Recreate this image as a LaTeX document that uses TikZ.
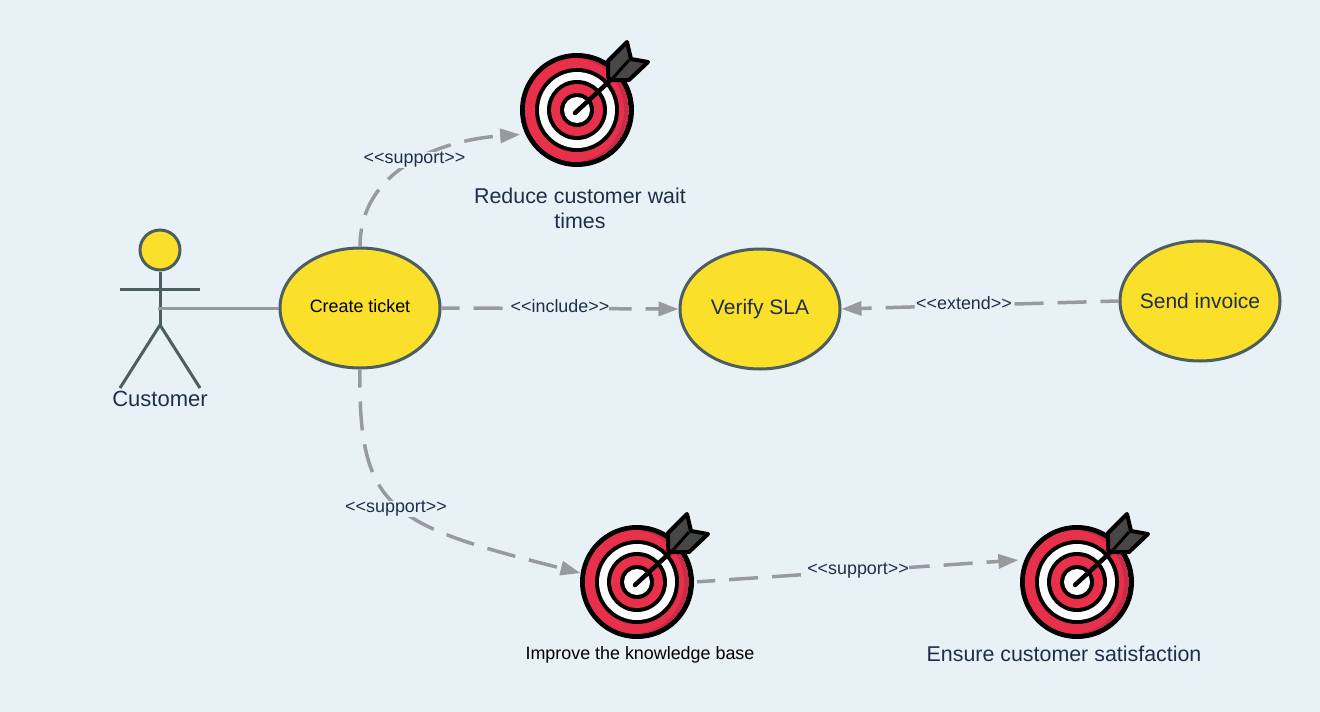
\documentclass[tikz,border=0pt]{standalone}
\usepackage{fontspec}
\setmainfont{Liberation Sans}
\usepackage{xcolor}
\usetikzlibrary{positioning,calc,arrows.meta,shapes.geometric}
\definecolor{bgblue}{HTML}{E8F1F6}
\definecolor{caseyellow}{HTML}{FBE02B}
\definecolor{caseline}{HTML}{4D5E60}
\definecolor{linkgray}{HTML}{989B9D}
\definecolor{textnavy}{HTML}{202E4A}
\definecolor{ringred}{HTML}{E9304A}
\definecolor{ringdark}{HTML}{C42C48}
\tikzset{
	usecase/.style={ellipse,draw=caseline,line width=3pt,fill=caseyellow,minimum width=160pt,minimum height=120pt,inner sep=0pt,text=textnavy,font=\fontsize{21}{25}\selectfont},
	actorline/.style={draw=caseline,line width=3pt},
	link/.style={draw=linkgray,line width=3.5pt,dash pattern=on 29pt off 14pt,dash phase=11pt,-{Stealth[length=20pt,width=14pt,inset=0pt]}},
	linklabel/.style={fill=bgblue,text=textnavy,inner sep=0pt,font=\fontsize{17.9}{21}\selectfont},
	goaltext/.style={text=textnavy,align=center,font=\fontsize{21.4}{25}\selectfont},
}
\newcommand{\goalicon}[2]{%
	\node[circle,fill=black,minimum size=114pt,inner sep=0pt] (#1) at (#2) {};
	\begin{scope}[shift={(#2)}]
		\begin{scope}
			\clip (0,0) circle (52pt);
			\fill[ringdark] (0,0) circle (52pt);
			\fill[ringred] (-5,0) circle (52pt);
		\end{scope}
		\fill[black] (0,0) circle (42pt);
		\fill[white] (0,0) circle (38pt);
		\fill[black] (0,0) circle (30pt);
		\fill[ringred] (0,0) circle (26pt);
		\fill[black] (0,0) circle (17pt);
		\fill[white] (0,0) circle (13pt);
		\draw[line width=4.5pt,line cap=round] (-2,3)--(36,-32);
		\draw[black,line width=4pt,line join=round,fill=black!72] (31,-32)--(31,-49)--(50,-68)--(54,-51)--(71,-48)--(52,-30)--(35,-30)--cycle;
		\draw[black,line width=3pt] (36,-32)--(52,-50);
	\end{scope}
}

\begin{document}
\begin{tikzpicture}[x=1pt,y=-1pt]
	\fill[bgblue] (0,0) rectangle (1320,712);
	% actor
	\node[circle,draw=caseline,line width=3pt,fill=caseyellow,minimum size=40pt,inner sep=0pt] (head) at (160,250) {};
	\coordinate (hip) at (160,325);
	\coordinate (armL) at (120,289);
	\coordinate (armR) at (200,289);
	\coordinate (legL) at (120,388);
	\coordinate (legR) at (200,388);
	\coordinate (hand) at (158,308);
	\draw[actorline] (head.south)--(hip);
	\draw[actorline] (armL)--(armR);
	\draw[actorline] (legL)--(hip)--(legR);
	\node[text=textnavy,font=\fontsize{22}{26}\selectfont] (customer) at (160,399) {Customer};
	% use cases
	\node[usecase,font=\fontsize{17.9}{21}\selectfont,text=black] (ticket) at (360,308) {\raisebox{3pt}{Create ticket}};
	\node[usecase] (sla) at (760,309) {Verify SLA};
	\node[usecase,inner xsep=-10pt] (invoice) at (1200,301) {Send invoice};
	% goals
	\goalicon{wait}{577,110}
	\goalicon{base}{637,582}
	\goalicon{happy}{1077,582}
	\node[goaltext] (waittext) at (580,208) {Reduce customer wait\\times};
	\node[font=\fontsize{17.9}{21}\selectfont] (basetext) at (640,655) {Improve the knowledge base};
	\node[goaltext] (happytext) at (1064,654) {Ensure customer satisfaction};
	% links
	\draw[draw=linkgray,line width=3pt] (hand)--(ticket.west);
	\draw[link] (ticket.east)--(sla.west);
	\draw[link] (invoice.west)--(sla.east);
	\draw[link,shorten >=5pt] (ticket.north) .. controls (360,170) and (440,140) .. (wait.205);
	\draw[link] (ticket.south) .. controls (358,510) and (390,525) .. (base.171);
	\draw[link,shorten <=3pt,shorten >=6pt] (base.east)--(happy.157);
	\node[linklabel] (l1) at (414.5,160) {<{}<support>{}>};
	\node[linklabel] (l2) at (560,306) {<{}<include>{}>};
	\node[linklabel] (l3) at (964,303) {<{}<extend>{}>};
	\node[linklabel] (l4) at (396,509) {<{}<support>{}>};
	\node[linklabel] (l5) at (858,571) {<{}<support>{}>};
\end{tikzpicture}
\end{document}
